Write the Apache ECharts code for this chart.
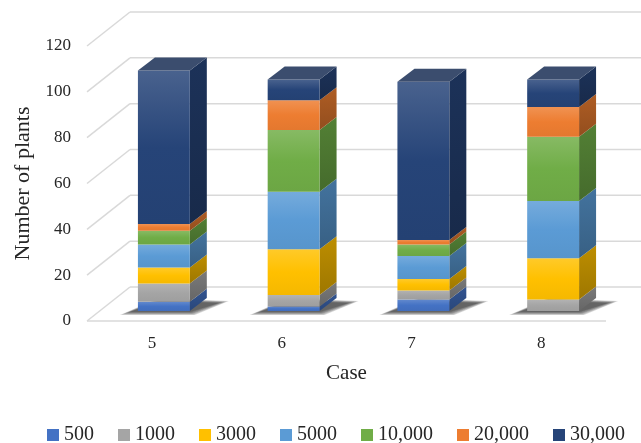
<!DOCTYPE html>
<html>
<head>
<meta charset="utf-8">
<script src="https://cdn.jsdelivr.net/npm/echarts@6/dist/echarts.min.js"></script>
<style>
  html, body { margin: 0; padding: 0; background: #ffffff; }
  #chart { width: 641px; height: 443px; }
</style>
</head>
<body>
<div id="chart"></div>
<script>
// Plants per population-size class for each case
const cases = ['5', '6', '7', '8'];
const seriesNames = ['500', '1000', '3000', '5000', '10,000', '20,000', '30,000'];
const v500   = [4, 2, 5, 0];
const v1000  = [8, 5, 4, 5];
const v3000  = [7, 20, 5, 18];
const v5000  = [10, 25, 10, 25];
const v10000 = [6, 27, 5, 28];
const v20000 = [3, 13, 2, 13];
const v30000 = [67, 9, 69, 12];
const yTicks = [0, 20, 40, 60, 80, 100, 120];

const seriesValues = [v500, v1000, v3000, v5000, v10000, v20000, v30000];
const colors = ['#4472C4', '#A5A5A5', '#FFC000', '#5B9BD5', '#70AD47', '#ED7D31', '#264478'];

// Pseudo-3D projection: offsets (px) of the bar front plane, bar back plane and back wall
const BAR_FRONT = [12, -10];
const BAR_BACK = [29, -23];
const WALL = [43, -34];
const BAR_RATIO = 0.4;
const GRID_COLOR = '#d9d9d9';
const FONT = '"Liberation Serif", "DejaVu Serif", serif';

function toRgb(c) {
  if (Array.isArray(c)) return c;
  const n = parseInt(c.slice(1), 16);
  return [(n >> 16) & 255, (n >> 8) & 255, n & 255];
}
function mixRgb(a, b, t) {
  a = toRgb(a); b = toRgb(b);
  return a.map((v, i) => Math.round(v + (b[i] - v) * t));
}
function css(rgb) { return 'rgb(' + rgb.join(',') + ')'; }
function mix(a, b, t) { return css(mixRgb(a, b, t)); }
function grad(stops) {
  return new echarts.graphic.LinearGradient(0, 0, 0, 1,
    stops.map((c, i) => ({ offset: i / (stops.length - 1), color: c })));
}

// Cumulative bases for stacking
const bases = seriesValues.map(() => cases.map(() => 0));
for (let c = 0; c < cases.length; c++) {
  let acc = 0;
  for (let s = 0; s < seriesValues.length; s++) {
    bases[s][c] = acc;
    acc += seriesValues[s][c];
  }
}
// Index of the uppermost non-empty segment of each column
const topSeries = cases.map((_, c) => {
  let t = 0;
  seriesValues.forEach((vals, s) => { if (vals[c] > 0) t = s; });
  return t;
});

// Back wall, side wall and floor lines
const wallSeries = {
  type: 'custom',
  name: 'walls',
  silent: true,
  clip: false,
  z: 1,
  data: yTicks.map(t => [0, t]),
  encode: { x: 0, y: 1 },
  renderItem(params, api) {
    const cs = params.coordSys;
    const v = api.value(1);
    const y = api.coord([0, v])[1];
    const x0 = cs.x;
    const style = { stroke: GRID_COLOR, lineWidth: 1.5 };
    const children = [
      { type: 'line', shape: { x1: x0, y1: y, x2: x0 + WALL[0], y2: y + WALL[1] }, style },
      { type: 'line', shape: { x1: x0 + WALL[0], y1: y + WALL[1], x2: cs.x + cs.width + WALL[0] + 40, y2: y + WALL[1] }, style }
    ];
    if (v === 0) {
      children.push({ type: 'line', shape: { x1: x0, y1: y, x2: cs.x + cs.width, y2: y }, style });
    }
    return { type: 'group', children };
  }
};

// Soft floor shadow beneath each column, built from layered translucent footprints
const SHADOW_LAYERS = [10, 8, 6, 4, 2, 0];
const shadowSeries = {
  type: 'custom',
  name: 'shadow',
  silent: true,
  clip: false,
  z: 2,
  data: cases.map((_, i) => [i, 0]),
  encode: { x: 0, y: 1 },
  renderItem(params, api) {
    const p = api.coord([api.value(0), 0]);
    const bw = api.size([1, 0])[0] * BAR_RATIO;
    const xl = p[0] - bw / 2;
    const xr = xl + bw;
    const y0 = p[1];
    const children = SHADOW_LAYERS.map(g => ({
      type: 'polygon',
      shape: {
        points: [
          [xl + BAR_FRONT[0] - 8 - g, y0 + BAR_FRONT[1] + 1 + g * 0.3],
          [xr + BAR_FRONT[0] + g * 0.5, y0 + BAR_FRONT[1] + 1 + g * 0.3],
          [xr + BAR_BACK[0] + 12 + g, y0 + BAR_BACK[1] + 5 - g * 0.2],
          [xl + BAR_BACK[0] + 4, y0 + BAR_BACK[1] + 3 - g * 0.3]
        ]
      },
      style: { fill: 'rgba(20,20,20,0.16)' }
    }));
    return { type: 'group', children };
  }
};

function barSeries(si) {
  const c = colors[si];
  const front = grad([mix(c, '#ffffff', 0.16), c, mix(c, '#000000', 0.04)]);
  const side = grad([mix(c, '#000000', 0.26), mix(c, '#000000', 0.38)]);
  const topFill = css(mixRgb(mixRgb(c, [128, 128, 128], 0.3), [0, 0, 0], 0.1));
  return {
    type: 'custom',
    name: seriesNames[si],
    clip: false,
    z: 3,
    itemStyle: { color: c },
    data: cases.map((_, k) => [k, bases[si][k], bases[si][k] + seriesValues[si][k]]),
    encode: { x: 0, y: [1, 2] },
    renderItem(params, api) {
      const ci = api.value(0);
      const b = api.value(1), t = api.value(2);
      if (t - b <= 0) return;
      const p0 = api.coord([ci, b]);
      const p1 = api.coord([ci, t]);
      const bw = api.size([1, 0])[0] * BAR_RATIO;
      const xl = p0[0] - bw / 2 + BAR_FRONT[0];
      const xr = xl + bw;
      const yb = p0[1] + BAR_FRONT[1];
      const yt = p1[1] + BAR_FRONT[1];
      const dx = BAR_BACK[0] - BAR_FRONT[0];
      const dy = BAR_BACK[1] - BAR_FRONT[1];
      const children = [
        { type: 'polygon', shape: { points: [[xr, yb], [xr + dx, yb + dy], [xr + dx, yt + dy], [xr, yt]] }, style: { fill: side } },
        { type: 'rect', shape: { x: xl, y: yt, width: bw, height: yb - yt }, style: { fill: front } }
      ];
      if (topSeries[ci] === si) {
        children.push({ type: 'polygon', shape: { points: [[xl, yt], [xr, yt], [xr + dx, yt + dy], [xl + dx, yt + dy]] }, style: { fill: topFill } });
      }
      return { type: 'group', children };
    }
  };
}

const chart = echarts.init(document.getElementById('chart'), null, { renderer: 'canvas' });
chart.setOption({
  animation: false,
  backgroundColor: '#ffffff',
  textStyle: { fontFamily: FONT },
  grid: { left: 87, right: 35, top: 46, bottom: 122, containLabel: false },
  xAxis: {
    type: 'category',
    data: cases,
    axisLine: { show: false },
    axisTick: { show: false },
    axisLabel: { color: '#262626', fontSize: 17, fontFamily: FONT, margin: 14 },
    name: 'Case',
    nameLocation: 'middle',
    nameGap: 42,
    nameTextStyle: { color: '#262626', fontSize: 21, fontFamily: FONT }
  },
  yAxis: {
    type: 'value',
    min: 0,
    max: 120,
    interval: 20,
    axisLine: { show: false },
    axisTick: { show: false },
    splitLine: { show: false },
    axisLabel: { color: '#262626', fontSize: 17, fontFamily: FONT, margin: 16 },
    name: 'Number of plants',
    nameLocation: 'middle',
    nameGap: 51,
    nameTextStyle: { color: '#262626', fontSize: 22, fontFamily: FONT }
  },
  legend: {
    data: seriesNames,
    left: 42,
    top: 420,
    icon: 'rect',
    itemWidth: 12,
    itemHeight: 12,
    itemGap: 24,
    textStyle: { color: '#262626', fontSize: 20, fontFamily: FONT }
  },
  series: [wallSeries, shadowSeries].concat(seriesValues.map((_, i) => barSeries(i)))
});
</script>
</body>
</html>
